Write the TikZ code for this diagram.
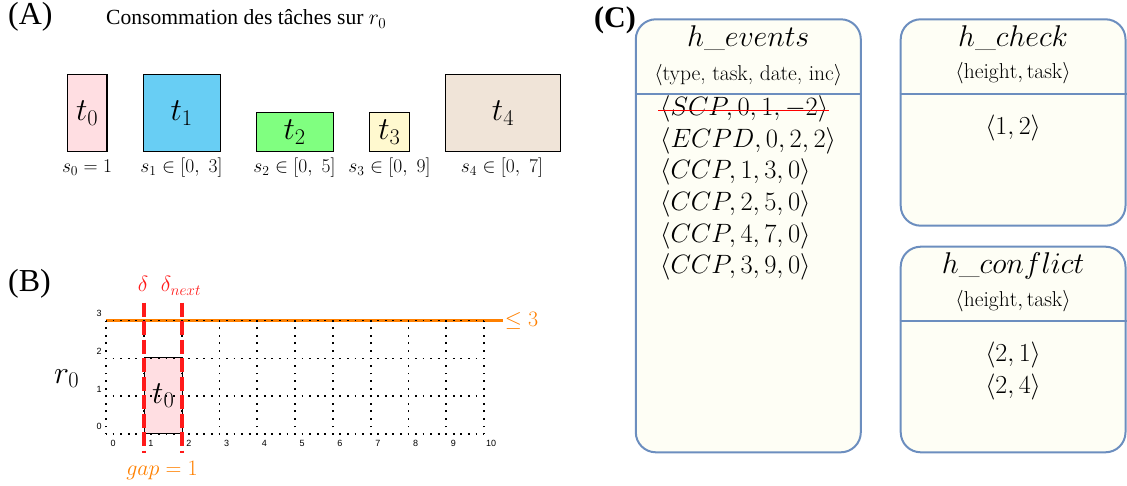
\RequirePackage{fix-cm}
\documentclass[tikz,border=0pt]{standalone}
\usepackage{fontspec}
\newfontfamily\tnr{Liberation Serif}
\newfontfamily\ticksf{Liberation Sans}
\definecolor{pinkA}{HTML}{FFDEE2}
\definecolor{blueA}{HTML}{68CEF4}
\definecolor{greenA}{HTML}{80FF80}
\definecolor{yellowA}{HTML}{FFF9CF}
\definecolor{beigeA}{HTML}{F0E4D8}
\definecolor{redL}{HTML}{FF1A1A}
\definecolor{orangeL}{HTML}{FF8000}
\definecolor{boxblue}{HTML}{6C8EBF}
\definecolor{cream}{HTML}{FEFEF5}
\tikzset{
  taskbox/.style={draw=black, line width=1.1pt, inner sep=0pt, font=\fontsize{32}{36}\selectfont},
  slabel/.style={inner sep=0pt, anchor=base, font=\fontsize{19.5}{22}\selectfont},
  panel/.style={inner sep=0pt, anchor=base west, font=\tnr\fontsize{32}{36}\selectfont},
  gridl/.style={line width=1.8pt, dash pattern=on 1.8pt off 5.76pt, dash phase=0.9pt},
  tick/.style={inner sep=0pt, font=\ticksf\fontsize{9}{10}\selectfont},
  redline/.style={draw=redL, line width=4pt, dash pattern=on 14pt off 4.5pt},
  hbox/.style={draw=boxblue, fill=cream, line width=2pt, rounded corners=20pt, inner sep=0pt},
  sep/.style={draw=boxblue, line width=2pt},
  htitle/.style={inner sep=0pt, anchor=base, font=\fontsize{30}{34}\selectfont},
  hsub/.style={inner sep=0pt, font=\fontsize{21.5}{24}\selectfont},
  entry/.style={inner sep=0pt, anchor=west, font=\fontsize{26.5}{30}\selectfont},
  centry/.style={inner sep=0pt, font=\fontsize{26}{30}\selectfont}
}
\begin{document}
\begin{tikzpicture}[x=1pt,y=-1pt]
\useasboundingbox (0,0) rectangle (1127,486);
% ---------------- Panel A
\node[panel] (lA) at (8,25) {(A)};
\node[inner sep=0pt, anchor=base west, font=\tnr\fontsize{21.6}{26}\selectfont] (titleA) at (106,25) {Consommation des tâches sur $r_0$};
\node[taskbox, fill=pinkA, minimum width=39.5pt, minimum height=77pt] (t0) at (87.2,113.2) {$t_0$};
\node[taskbox, fill=blueA, minimum width=76.7pt, minimum height=77pt] (t1) at (181.7,113.2) {$t_1$};
\node[taskbox, fill=greenA, minimum width=77.3pt, minimum height=39.5pt] (t2) at (294.7,132) {$t_2$};
\node[taskbox, fill=yellowA, minimum width=40pt, minimum height=39.5pt] (t3) at (389.3,132) {$t_3$};
\node[taskbox, fill=beigeA, minimum width=115.4pt, minimum height=77pt] (t4) at (503,113.2) {$t_4$};
\node[slabel] (s0) at (87,173) {$s_0 = 1$};
\node[slabel] (s1) at (181.5,173) {$s_1 \in [0,\ 3]$};
\node[slabel] (s2) at (294.5,173) {$s_2 \in [0,\ 5]$};
\node[slabel] (s3) at (389.5,173) {$s_3 \in [0,\ 9]$};
\node[slabel] (s4) at (502,173) {$s_4 \in [0,\ 7]$};
% ---------------- Panel B
\node[panel] (lB) at (8,292) {(B)};
\node[inner sep=0pt, anchor=base west, font=\fontsize{32}{36}\selectfont] (r0) at (54,383) {$r_0$};
\begin{scope}[shift={(106,434)}, x=37.8pt, y=37.8pt]
  \node[draw=black, line width=1.1pt, fill=pinkA, minimum width=37.8pt, minimum height=75.6pt, inner sep=0pt, anchor=south west, font=\fontsize{32}{36}\selectfont] (tb) at (1,0) {$t_0$};
  \coordinate (capL) at (0,3);
  \coordinate (capR) at (10.5,3);
  \draw[orangeL, line width=3.6pt] (capL) -- (capR);
  \foreach \j in {0,...,3} \draw[gridl] (0,\j) -- (10,\j);
  \foreach \i in {0,...,10} \draw[gridl] (\i,0) -- (\i,3);
  \foreach \i in {0,...,10} \node[tick] at (\i+0.19,-0.25) {\i};
  \foreach \j in {0,...,3} \node[tick] at (-0.18,\j+0.19) {\j};
  \node[inner sep=0pt, anchor=west, text=orangeL, font=\fontsize{22}{26}\selectfont] (le) at (10.55,3) {$\le 3$};
\end{scope}
\coordinate (d1t) at (143.8,302.7);
\coordinate (d1b) at (143.8,452.7);
\coordinate (d2t) at (181.6,302.7);
\coordinate (d2b) at (181.6,452.7);
\draw[redline] (d1t) -- (d1b);
\draw[redline] (d2t) -- (d2b);
\node[inner sep=0pt, anchor=base, text=redL, font=\fontsize{22}{26}\selectfont] (dl) at (143,292) {$\delta$};
\node[inner sep=0pt, anchor=base, text=redL, font=\fontsize{22}{26}\selectfont] (dn) at (181,292) {$\delta_{next}$};
\node[inner sep=0pt, anchor=base, text=orangeL, font=\fontsize{22}{26}\selectfont] (gap) at (162,475) {$gap = 1$};
% ---------------- Panel C
\node[panel, font=\tnr\bfseries\fontsize{30}{34}\selectfont] (lC) at (594,28) {(C)};
\node[hbox, minimum width=225pt, minimum height=433pt] (ev) at (748.3,235.8) {};
\node[hbox, minimum width=224.8pt, minimum height=206.4pt] (ck) at (1013.1,122.5) {};
\node[hbox, minimum width=224.8pt, minimum height=205.6pt] (cf) at (1013.1,349.5) {};
\draw[sep] (ev.west |- 0,94.3) -- (ev.east |- 0,94.3);
\draw[sep] (ck.west |- 0,94.3) -- (ck.east |- 0,94.3);
\draw[sep] (cf.west |- 0,321) -- (cf.east |- 0,321);
\node[htitle] (evt) at (748.3,46.5) {$h\_events$};
\node[hsub] (evs) at (748.3,75) {$\langle$type, task, date, inc$\rangle$};
\node[htitle] (ckt) at (1013.1,46.5) {$h\_check$};
\node[hsub] (cks) at (1013.1,73.3) {$\langle \mathrm{height}, \mathrm{task}\rangle$};
\node[htitle] (cft) at (1013.1,273.3) {$h\_conflict$};
\node[hsub] (cfs) at (1013.1,301) {$\langle \mathrm{height}, \mathrm{task}\rangle$};
\node[entry] (e1) at (660,109) {$\langle SCP, 0, 1, -2\rangle$};
\node[entry] (e2) at (660,140.6) {$\langle ECPD, 0, 2, 2\rangle$};
\node[entry] (e3) at (660,172.2) {$\langle CCP, 1, 3, 0\rangle$};
\node[entry] (e4) at (660,203.8) {$\langle CCP, 2, 5, 0\rangle$};
\node[entry] (e5) at (660,235.4) {$\langle CCP, 4, 7, 0\rangle$};
\node[entry] (e6) at (660,267) {$\langle CCP, 3, 9, 0\rangle$};
\draw[draw=red, line width=1.6pt] ([xshift=-2pt,yshift=-1.5pt]e1.west) -- ([xshift=1pt,yshift=-1.5pt]e1.east);
\node[centry] (c1) at (1013.1,128.3) {$\langle 1, 2\rangle$};
\node[centry] (f1) at (1013.1,355) {$\langle 2, 1\rangle$};
\node[centry] (f2) at (1013.1,386.7) {$\langle 2, 4\rangle$};
\end{tikzpicture}
\end{document}
